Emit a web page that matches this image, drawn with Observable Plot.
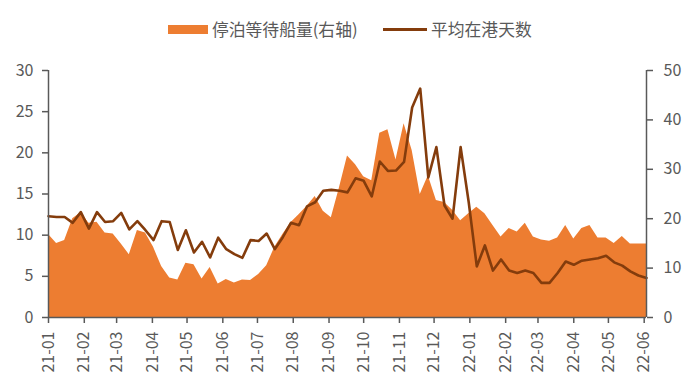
<!DOCTYPE html>
<html>
<head>
<meta charset="utf-8">
<script src="https://cdn.jsdelivr.net/npm/d3@7"></script>
<script src="https://cdn.jsdelivr.net/npm/@observablehq/plot@0.6"></script>
<style>
  html, body { margin: 0; padding: 0; background: #fff; }
  #wrap { width: 691px; height: 386px; position: relative; font-family: "Noto Sans CJK SC", "Noto Sans", sans-serif; }
  #legend { position: relative; height: 48px; width: 691px; color: #595959; font-size: 16.8px; }
  .sw-area { position: absolute; left: 168px; top: 25px; width: 40px; height: 9px; background: #ED7D31; }
  .sw-line { position: absolute; left: 383px; top: 28px; width: 44px; height: 3px; background: #843C0C; }
  .lt { position: absolute; top: 17px; line-height: 24px; white-space: nowrap; }
  svg { display: block; }
</style>
</head>
<body>
<div id="wrap">
  <div id="legend">
    <div class="sw-area"></div><div class="lt" style="left:212px">停泊等待船量(右轴)</div>
    <div class="sw-line"></div><div class="lt" style="left:431px">平均在港天数</div>
  </div>
  <div id="chart"></div>
</div>
<script>
// Weekly observations starting 2021-01-01
const startDate = "2021-01-01";
// 平均在港天数 (left axis)
const avgDays = [
  12.3, 12.2, 12.2, 11.5, 12.8, 10.8, 12.8, 11.6, 11.7, 12.7,
  10.7, 11.7, 10.6, 9.4, 11.7, 11.6, 8.2, 10.6, 7.9, 9.2,
  7.3, 9.7, 8.3, 7.7, 7.25, 9.4, 9.3, 10.2, 8.3, 9.75,
  11.5, 11.2, 13.5, 14.0, 15.4, 15.5, 15.4, 15.2, 16.9, 16.6,
  14.7, 18.95, 17.8, 17.85, 18.9, 25.5, 27.8, 17.0, 20.7, 13.6,
  12.0, 20.7, 14.0, 6.2, 8.75, 5.7, 7.05, 5.7, 5.4, 5.7,
  5.4, 4.2, 4.2, 5.4, 6.8, 6.4, 6.9, 7.05, 7.2, 7.5,
  6.7, 6.3, 5.6, 5.1, 4.8
];
// 停泊等待船量 (right axis)
const waitingShips = [
  16.8, 15.0, 15.6, 20.0, 21.2, 19.1, 19.3, 17.1, 16.9, 14.9,
  12.7, 17.6, 17.1, 14.2, 10.3, 8.0, 7.6, 11.0, 10.7, 7.8,
  10.1, 6.8, 7.7, 7.0, 7.6, 7.5, 8.7, 10.5, 14.2, 16.8,
  19.2, 20.8, 22.5, 24.5, 21.5, 20.2, 26.2, 32.7, 30.9, 28.5,
  27.7, 37.3, 38.0, 31.9, 39.2, 33.8, 24.9, 28.7, 23.7, 23.3,
  21.7, 19.6, 21.0, 22.3, 21.0, 18.6, 16.3, 18.0, 17.3, 19.1,
  16.3, 15.7, 15.45, 16.1, 18.6, 15.9, 18.0, 18.6, 16.1, 16.1,
  15.0, 16.4, 14.9, 14.9, 14.9
];
const leftTicks = [0, 5, 10, 15, 20, 25, 30];
const rightTicks = [0, 10, 20, 30, 40, 50];
const leftMax = 30, rightMax = 50;
const k = leftMax / rightMax;

const t0 = new Date(startDate + "T00:00:00Z");
const dates = avgDays.map((_, i) => d3.utcDay.offset(t0, i * 7));
const data = dates.map((date, i) => ({date, days: avgDays[i], ships: waitingShips[i]}));
const monthTicks = d3.utcMonths(t0, d3.utcDay.offset(dates[dates.length - 1], 1));

const grey = "#595959";
const chart = Plot.plot({
  width: 691,
  height: 338,
  marginTop: 22,
  marginBottom: 69,
  marginLeft: 48,
  marginRight: 45,
  style: {fontFamily: "'Noto Sans CJK SC', 'Noto Sans', sans-serif", fontSize: "16px", color: grey, background: "#fff"},
  x: {type: "utc", domain: [dates[0], dates[dates.length - 1]]},
  y: {domain: [0, leftMax]},
  marks: [
    Plot.areaY(data, {x: "date", y: d => d.ships * k, fill: "#ED7D31"}),
    Plot.lineY(data, {x: "date", y: "days", stroke: "#843C0C", strokeWidth: 2.6, strokeLinejoin: "round"}),
    Plot.ruleY([0], {stroke: grey, strokeWidth: 1.5}),
    Plot.ruleX([dates[0], dates[dates.length - 1]], {stroke: grey, strokeWidth: 1.5}),
    Plot.axisY({anchor: "left", ticks: leftTicks, tickSize: 6, tickPadding: 9, label: null, fontSize: 16, stroke: grey, strokeWidth: 1.5}),
    Plot.axisY({anchor: "right", ticks: rightTicks.map(v => v * k), tickFormat: d => String(Math.round(d / k)), tickSize: 6, tickPadding: 11, label: null, fontSize: 16, stroke: grey, strokeWidth: 1.5}),
    Plot.axisX({ticks: monthTicks, tickFormat: d3.utcFormat("%y-%m"), tickRotate: -90, tickSize: 6, tickPadding: 8, label: null, fontSize: 16, stroke: grey, strokeWidth: 1.5})
  ]
});
document.getElementById("chart").appendChild(chart);
</script>
</body>
</html>
